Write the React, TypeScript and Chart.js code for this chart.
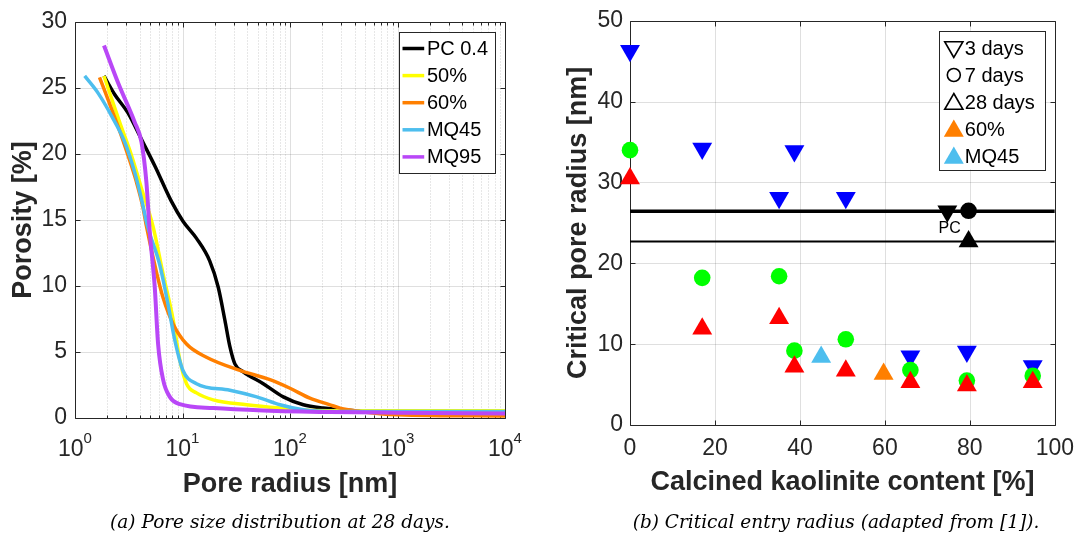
import React, { useEffect, useRef } from 'react';
import { Chart, registerables } from 'chart.js';

Chart.register(...registerables);

const FONT = '"Liberation Sans", Arial, Helvetica, sans-serif';
const AXIS_COLOR = '#262626';

// ---------------- (a) Pore size distribution at 28 days ----------------
const psdLabels = ['PC 0.4', '50%', '60%', 'MQ45', 'MQ95'];

const pc04Radius = [1.86, 2.34, 3.11, 4.15, 5.52, 7.89, 10.1, 13.5, 17.9, 21.5, 24.8, 27.6, 30.7, 36.7, 56.4, 86.6, 133, 204, 400, 1000, 10000];
const pc04Porosity = [25.9, 24.5, 23.1, 21.1, 19.1, 16.4, 14.9, 13.6, 11.9, 9.9, 7.4, 5.4, 4.1, 3.5, 2.6, 1.6, 1.0, 0.75, 0.55, 0.5, 0.45];

const k50Radius = [1.86, 2.6, 3.35, 4.15, 5.32, 6.6, 8.2, 9.44, 10.9, 13.5, 19.3, 39.5, 80.7, 164, 500, 10000];
const k50Porosity = [25.9, 22.4, 19.9, 17.4, 14.5, 10.9, 7.4, 4.4, 2.6, 1.9, 1.37, 1.0, 0.75, 0.57, 0.55, 0.55];

const k60Radius = [1.69, 2.03, 2.51, 3.11, 3.72, 4.3, 4.6, 5.7, 6.6, 8.2, 10.9, 16.7, 34.2, 65.1, 100, 153, 236, 292, 447, 1000, 10000];
const k60Porosity = [25.8, 24.1, 22.1, 19.9, 17.9, 15.9, 14.6, 11.1, 9.1, 7.1, 5.6, 4.6, 3.6, 2.9, 2.25, 1.5, 1.0, 0.75, 0.5, 0.25, 0.15];

const mq45Radius = [1.23, 1.64, 2.18, 2.9, 3.59, 4.15, 4.7, 6.14, 7.34, 8.48, 10.1, 13.5, 27.6, 49, 80.7, 133, 236, 1000, 10000];
const mq45Porosity = [25.9, 24.6, 22.9, 20.9, 18.6, 16.6, 14.6, 11.6, 8.6, 5.9, 3.6, 2.6, 2.1, 1.6, 1.0, 0.62, 0.5, 0.5, 0.5];

const mq95Radius = [1.86, 2.51, 3.59, 4.15, 4.61, 4.96, 5.52, 5.93, 6.6, 7.62, 9.44, 19.3, 56.4, 236, 1000, 10000];
const mq95Porosity = [28.2, 25.4, 22.4, 20.9, 17.9, 14.1, 9.9, 5.6, 2.9, 1.6, 1.05, 0.75, 0.57, 0.45, 0.4, 0.35];

const logTickValues = [1, 10, 100, 1000, 10000];
const logTickExponents = ['0', '1', '2', '3', '4'];
const logMinorMultipliers = [2, 3, 4, 5, 6, 7, 8, 9];
const porosityTicks = [0, 5, 10, 15, 20, 25, 30];

// ---------------- (b) Critical entry radius ----------------
const kaoliniteContent = [0, 17, 35.1, 38.7, 50.8, 66, 79.3, 94.8];
const critRadius3d = [46.3, 34.2, 28.1, 33.9, 28.1, 8.5, 9.1, 7.3];
const critRadius7d = [34.0, 18.2, 18.4, 9.2, 10.6, 6.8, 5.5, 6.1];
const critRadius28d = [30.5, 11.9, 13.2, 7.2, 6.7, 5.3, 4.9, 5.3];

const pcContent = [74.7, 79.7, 79.7];
const pcRadius = [26.45, 26.5, 22.7];
const pcLineEarly = 26.45;
const pcLine28d = 22.7;
const pcLabelPos = [75.25, 24.3];

const k60Content = [59.7];
const k60Radius28d = [6.3];
const mq45Content = [45];
const mq45Radius28d = [8.4];

const contentTicks = [0, 20, 40, 60, 80, 100];
const radiusTicks = [0, 10, 20, 30, 40, 50];

const legendB = ['3 days', '7 days', '28 days', '60%', 'MQ45'];

// ---------------- helpers ----------------
function trianglePath(ctx: CanvasRenderingContext2D, x: number, y: number, r: number, rotDeg: number) {
  let rad = (rotDeg * Math.PI) / 180;
  ctx.beginPath();
  ctx.moveTo(x + Math.sin(rad) * r, y - Math.cos(rad) * r);
  rad += (2 * Math.PI) / 3;
  ctx.lineTo(x + Math.sin(rad) * r, y - Math.cos(rad) * r);
  rad += (2 * Math.PI) / 3;
  ctx.lineTo(x + Math.sin(rad) * r, y - Math.cos(rad) * r);
  ctx.closePath();
}

type FrameCfg = { xMajor: number[]; xMinor: number[]; yMajor: number[] };

function makeFramePlugin(cfg: FrameCfg) {
  return {
    id: 'matlabFrame',
    beforeDatasetsDraw(chart: any) {
      const { ctx, chartArea } = chart;
      const { left, right, top, bottom } = chartArea;
      const xs = chart.scales.x;
      const ys = chart.scales.y;
      const px = (v: number) => Math.round(xs.getPixelForValue(v)) + 0.5;
      const py = (v: number) => Math.round(ys.getPixelForValue(v)) + 0.5;
      const L = Math.round(left) + 0.5;
      const R = Math.round(right) + 0.5;
      const T = Math.round(top) + 0.5;
      const B = Math.round(bottom) + 0.5;
      ctx.save();
      ctx.lineWidth = 1;
      ctx.strokeStyle = 'rgba(38,38,38,0.22)';
      ctx.setLineDash([1, 2]);
      cfg.xMinor.forEach((v) => {
        const x = px(v);
        if (x > L + 1 && x < R - 1) {
          ctx.beginPath();
          ctx.moveTo(x, T);
          ctx.lineTo(x, B);
          ctx.stroke();
        }
      });
      ctx.setLineDash([]);
      ctx.strokeStyle = 'rgba(38,38,38,0.15)';
      cfg.xMajor.forEach((v) => {
        const x = px(v);
        if (x > L + 1 && x < R - 1) {
          ctx.beginPath();
          ctx.moveTo(x, T);
          ctx.lineTo(x, B);
          ctx.stroke();
        }
      });
      cfg.yMajor.forEach((v) => {
        const y = py(v);
        if (y > T + 1 && y < B - 1) {
          ctx.beginPath();
          ctx.moveTo(L, y);
          ctx.lineTo(R, y);
          ctx.stroke();
        }
      });
      ctx.strokeStyle = AXIS_COLOR;
      ctx.beginPath();
      ctx.rect(L, T, R - L, B - T);
      ctx.stroke();
      const tick = (x1: number, y1: number, x2: number, y2: number) => {
        ctx.beginPath();
        ctx.moveTo(x1, y1);
        ctx.lineTo(x2, y2);
        ctx.stroke();
      };
      cfg.xMajor.forEach((v) => {
        const x = px(v);
        tick(x, B, x, B - 5);
        tick(x, T, x, T + 5);
      });
      cfg.xMinor.forEach((v) => {
        const x = px(v);
        if (x > L + 1 && x < R - 1) {
          tick(x, B, x, B - 3);
          tick(x, T, x, T + 3);
        }
      });
      cfg.yMajor.forEach((v) => {
        const y = py(v);
        tick(L, y, L + 5, y);
        tick(R, y, R - 5, y);
      });
      ctx.restore();
    },
  };
}

// ---------------- chart (a) ----------------
function buildChartA(canvas: HTMLCanvasElement) {
  const series = [
    { r: pc04Radius, p: pc04Porosity, color: '#000000', w: 3.5 },
    { r: k50Radius, p: k50Porosity, color: '#ffff00', w: 3.5 },
    { r: k60Radius, p: k60Porosity, color: '#ff7f00', w: 3.5 },
    { r: mq45Radius, p: mq45Porosity, color: '#4dbeee', w: 3.5 },
    { r: mq95Radius, p: mq95Porosity, color: '#b947f7', w: 4 },
  ];
  const minor: number[] = [];
  logTickValues.slice(0, -1).forEach((d) => logMinorMultipliers.forEach((m) => minor.push(d * m)));

  const frame = makeFramePlugin({ xMajor: logTickValues, xMinor: minor, yMajor: porosityTicks });

  const extras = {
    id: 'extrasA',
    afterDraw(chart: any) {
      const { ctx, chartArea } = chart;
      const xs = chart.scales.x;
      ctx.save();
      ctx.fillStyle = AXIS_COLOR;
      ctx.textBaseline = 'alphabetic';
      ctx.textAlign = 'left';
      logTickValues.forEach((v, i) => {
        const x = xs.getPixelForValue(v);
        ctx.font = `23px ${FONT}`;
        const wb = ctx.measureText('10').width;
        ctx.font = `15px ${FONT}`;
        const ws = ctx.measureText(logTickExponents[i]).width;
        const start = x - (wb + ws) / 2;
        ctx.font = `23px ${FONT}`;
        ctx.fillText('10', start, chartArea.bottom + 38.4);
        ctx.font = `15px ${FONT}`;
        ctx.fillText(logTickExponents[i], start + wb, chartArea.bottom + 25);
      });
      const bx1 = chartArea.right - 9.5;
      const bx0 = bx1 - 96.3;
      const by0 = chartArea.top + 10;
      const by1 = by0 + 141;
      ctx.fillStyle = '#ffffff';
      ctx.fillRect(bx0, by0, bx1 - bx0, by1 - by0);
      ctx.strokeStyle = AXIS_COLOR;
      ctx.lineWidth = 1;
      ctx.strokeRect(Math.round(bx0) + 0.5, Math.round(by0) + 0.5, Math.round(bx1 - bx0), Math.round(by1 - by0));
      ctx.font = `20px ${FONT}`;
      ctx.textBaseline = 'middle';
      psdLabels.forEach((lab, i) => {
        const y = by0 + 16.7 + i * 27.1;
        ctx.strokeStyle = series[i].color;
        ctx.lineWidth = 3.5;
        ctx.beginPath();
        ctx.moveTo(bx0 + 3.3, y);
        ctx.lineTo(bx0 + 25, y);
        ctx.stroke();
        ctx.fillStyle = '#000000';
        ctx.fillText(lab, bx0 + 27.7, y + 1);
      });
      ctx.restore();
    },
  };

  return new Chart(canvas, {
    type: 'line',
    data: {
      datasets: series.map((s, i) => ({
        label: psdLabels[i],
        data: s.r.map((r, k) => ({ x: r, y: s.p[k] })),
        borderColor: s.color,
        backgroundColor: s.color,
        borderWidth: s.w,
        pointRadius: 0,
        fill: false,
        cubicInterpolationMode: 'monotone',
        order: series.length - i,
      })),
    },
    options: {
      animation: false,
      responsive: false,
      devicePixelRatio: 1,
      layout: { padding: { left: 0, top: 18, right: 35, bottom: 0 } },
      plugins: { legend: { display: false }, tooltip: { enabled: false } },
      scales: {
        x: {
          type: 'logarithmic',
          min: 1,
          max: 10000,
          grid: { display: false, drawTicks: false },
          border: { display: false },
          ticks: { display: false },
          title: {
            display: true,
            text: 'Pore radius [nm]',
            color: AXIS_COLOR,
            font: { family: FONT, size: 27, weight: 'bold' },
            padding: { top: 0, bottom: 34 },
          },
          afterFit: (s: any) => {
            s.height = 117;
          },
        },
        y: {
          min: 0,
          max: 30,
          grid: { display: false, drawTicks: false },
          border: { display: false },
          ticks: { stepSize: 5, color: AXIS_COLOR, font: { family: FONT, size: 23 }, padding: 8 },
          title: {
            display: true,
            text: 'Porosity [%]',
            color: AXIS_COLOR,
            font: { family: FONT, size: 27, weight: 'bold' },
            padding: { top: 7, bottom: 0 },
          },
          afterFit: (s: any) => {
            s.width = 75;
          },
        },
      },
    } as any,
    plugins: [frame, extras],
  });
}

// ---------------- chart (b) ----------------
function buildChartB(canvas: HTMLCanvasElement) {
  const RED = '#ff0000';
  const GREEN = '#00ff00';
  const BLUE = '#0000ff';
  const ORANGE = '#ff7f00';
  const LBLUE = '#4dbeee';
  const pts = (xs: number[], ys: number[]) => xs.map((x, i) => ({ x, y: ys[i] }));
  const marker = (color: string) => ({
    backgroundColor: color,
    borderColor: color,
    borderWidth: 0,
    pointBackgroundColor: color,
    pointBorderColor: color,
    pointBorderWidth: 0,
    clip: false,
  });

  const frame = makeFramePlugin({ xMajor: contentTicks, xMinor: [], yMajor: radiusTicks });

  const extras = {
    id: 'extrasB',
    afterDraw(chart: any) {
      const { ctx, chartArea } = chart;
      const xs = chart.scales.x;
      const ys = chart.scales.y;
      ctx.save();
      ctx.fillStyle = '#000000';
      ctx.font = `16px ${FONT}`;
      ctx.textAlign = 'center';
      ctx.textBaseline = 'middle';
      ctx.fillText('PC', xs.getPixelForValue(pcLabelPos[0]), ys.getPixelForValue(pcLabelPos[1]));
      const bx1 = chartArea.right - 10;
      const bx0 = bx1 - 105.7;
      const by0 = chartArea.top + 10;
      const by1 = by0 + 138.5;
      ctx.fillStyle = '#ffffff';
      ctx.fillRect(bx0, by0, bx1 - bx0, by1 - by0);
      ctx.strokeStyle = AXIS_COLOR;
      ctx.lineWidth = 1;
      ctx.strokeRect(Math.round(bx0) + 0.5, Math.round(by0) + 0.5, Math.round(bx1 - bx0), Math.round(by1 - by0));
      ctx.font = `20px ${FONT}`;
      ctx.textAlign = 'left';
      legendB.forEach((lab, i) => {
        const y = by0 + 17.2 + i * 27;
        const mx = bx0 + 14.7;
        ctx.lineWidth = 1.6;
        ctx.strokeStyle = '#000000';
        if (i === 0) {
          trianglePath(ctx, mx, y - 1, 10.5, 180);
          ctx.stroke();
        } else if (i === 1) {
          ctx.beginPath();
          ctx.arc(mx, y, 6.5, 0, Math.PI * 2);
          ctx.stroke();
        } else if (i === 2) {
          trianglePath(ctx, mx, y + 2, 10.5, 0);
          ctx.stroke();
        } else {
          trianglePath(ctx, mx, y + 2, 11.5, 0);
          ctx.fillStyle = i === 3 ? ORANGE : LBLUE;
          ctx.fill();
        }
        ctx.fillStyle = '#000000';
        ctx.fillText(lab, bx0 + 25.7, y + 1);
      });
      ctx.restore();
    },
  };

  return new Chart(canvas, {
    type: 'scatter',
    data: {
      datasets: [
        {
          label: 'PC early',
          type: 'line',
          data: [
            { x: contentTicks[0], y: pcLineEarly },
            { x: contentTicks[contentTicks.length - 1], y: pcLineEarly },
          ],
          borderColor: '#000000',
          borderWidth: 3.5,
          pointRadius: 0,
          showLine: true,
          order: 10,
        },
        {
          label: 'PC 28 days',
          type: 'line',
          data: [
            { x: contentTicks[0], y: pcLine28d },
            { x: contentTicks[contentTicks.length - 1], y: pcLine28d },
          ],
          borderColor: '#000000',
          borderWidth: 2,
          pointRadius: 0,
          showLine: true,
          order: 9,
        },
        {
          label: '3 days',
          data: pts(kaoliniteContent, critRadius3d),
          pointStyle: 'triangle',
          rotation: 180,
          pointRadius: 11.5,
          ...marker(BLUE),
          order: 5,
        },
        {
          label: '7 days',
          data: pts(kaoliniteContent, critRadius7d),
          pointStyle: 'circle',
          pointRadius: 8.3,
          ...marker(GREEN),
          order: 4,
        },
        {
          label: '28 days',
          data: pts(kaoliniteContent, critRadius28d),
          pointStyle: 'triangle',
          pointRadius: 11.5,
          ...marker(RED),
          order: 3,
        },
        {
          label: 'PC',
          data: pts(pcContent, pcRadius),
          pointStyle: ['triangle', 'circle', 'triangle'],
          rotation: [180, 0, 0],
          pointRadius: [11.5, 8.3, 11.5],
          ...marker('#000000'),
          order: 2,
        },
        {
          label: '60%',
          data: pts(k60Content, k60Radius28d),
          pointStyle: 'triangle',
          pointRadius: 11.5,
          ...marker(ORANGE),
          order: 1,
        },
        {
          label: 'MQ45',
          data: pts(mq45Content, mq45Radius28d),
          pointStyle: 'triangle',
          pointRadius: 11.5,
          ...marker(LBLUE),
          order: 1,
        },
      ],
    },
    options: {
      animation: false,
      responsive: false,
      devicePixelRatio: 1,
      layout: { padding: { left: 0, top: 18, right: 24, bottom: 0 } },
      plugins: { legend: { display: false }, tooltip: { enabled: false } },
      scales: {
        x: {
          type: 'linear',
          min: 0,
          max: 100,
          grid: { display: false, drawTicks: false },
          border: { display: false },
          ticks: { stepSize: 20, color: AXIS_COLOR, font: { family: FONT, size: 23 }, padding: 10 },
          title: {
            display: true,
            text: 'Calcined kaolinite content [%]',
            color: AXIS_COLOR,
            font: { family: FONT, size: 27, weight: 'bold' },
            padding: { top: 0, bottom: 36 },
          },
          afterFit: (s: any) => {
            s.height = 110;
          },
        },
        y: {
          min: 0,
          max: 50,
          grid: { display: false, drawTicks: false },
          border: { display: false },
          ticks: { stepSize: 10, color: AXIS_COLOR, font: { family: FONT, size: 23 }, padding: 7 },
          title: {
            display: true,
            text: 'Critical pore radius [nm]',
            color: AXIS_COLOR,
            font: { family: FONT, size: 27, weight: 'bold' },
            padding: { top: 22, bottom: 0 },
          },
          afterFit: (s: any) => {
            s.width = 90;
          },
        },
      },
    } as any,
    plugins: [frame, extras],
  });
}

const captionStyle = (left: number, width: number): React.CSSProperties => ({
  position: 'absolute',
  left,
  width,
  top: 510,
  height: 24,
  lineHeight: '24px',
  textAlign: 'center',
  fontFamily: '"DejaVu Serif", "Liberation Serif", serif',
  fontStyle: 'italic',
  fontSize: 18.5,
  color: '#000000',
  whiteSpace: 'nowrap',
});

export default function App() {
  const leftRef = useRef<HTMLCanvasElement>(null);
  const rightRef = useRef<HTMLCanvasElement>(null);

  useEffect(() => {
    const a = buildChartA(leftRef.current as HTMLCanvasElement);
    const b = buildChartB(rightRef.current as HTMLCanvasElement);
    return () => {
      a.destroy();
      b.destroy();
    };
  }, []);

  return (
    <div
      style={{
        position: 'absolute',
        left: 0,
        top: 0,
        width: 1084,
        height: 535,
        background: '#ffffff',
        overflow: 'hidden',
      }}
    >
      <canvas ref={leftRef} width={540} height={535} style={{ position: 'absolute', left: 0, top: 0 }} />
      <canvas ref={rightRef} width={544} height={535} style={{ position: 'absolute', left: 540, top: 0 }} />
      <div style={captionStyle(0, 560)}>(a) Pore size distribution at 28 days.</div>
      <div style={captionStyle(600, 472)}>(b) Critical entry radius (adapted from [1]).</div>
    </div>
  );
}
